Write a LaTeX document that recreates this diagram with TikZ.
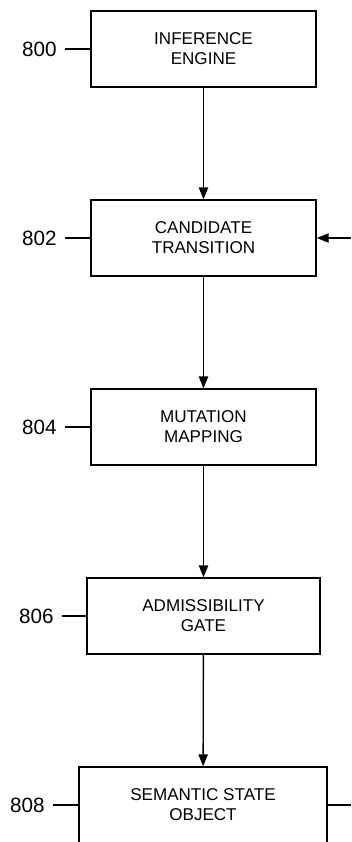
\documentclass[tikz,border=0pt]{standalone}
\usepackage{fontspec}
\setmainfont{Liberation Sans}
\usetikzlibrary{arrows.meta}

\begin{document}
\begin{tikzpicture}[x=0.75pt, y=-0.75pt, >={Triangle[length=9pt,width=7pt]},
        line width=1pt,
        blockbox/.style={draw, align=center, minimum height=57pt, inner sep=0pt,
            font=\fontsize{12.8}{15}\selectfont},
        refnum/.style={left, inner sep=6pt, font=\fontsize{15.5}{18}\selectfont}]
        \useasboundingbox (0,0) rectangle (351,842);

        \node[blockbox, minimum width=168.75pt] (eng) at (203.5,49) {INFERENCE\\ENGINE};
        \node[blockbox, minimum width=168.75pt] (cand) at (203.5,238) {CANDIDATE\\TRANSITION};
        \node[blockbox, minimum width=168.75pt] (mut) at (203.5,427) {MUTATION\\MAPPING};
        \node[blockbox, minimum width=174.75pt] (gate) at (203.5,616) {ADMISSIBILITY\\GATE};
        \node[blockbox, minimum width=186pt] (sso) at (203,805) {SEMANTIC STATE\\OBJECT};

        \coordinate (feedin) at (351,238);
        \coordinate (feedout) at (351,805);

        \draw[->] (eng) -- (cand);
        \draw[->] (cand) -- (mut);
        \draw[->] (mut) -- (gate);
        \draw[->] (gate) -- (sso);

        \draw[->] (feedin) -- (cand);
        \draw (sso) -- (feedout);

        \draw (eng.west) -- ++(-25,0) node[refnum] (r800) {800};
        \draw (cand.west) -- ++(-25,0) node[refnum] (r802) {802};
        \draw (mut.west) -- ++(-25,0) node[refnum] (r804) {804};
        \draw (gate.west) -- ++(-24,0) node[refnum] (r806) {806};
        \draw (sso.west) -- ++(-25,0) node[refnum] (r808) {808};
    \end{tikzpicture}
\end{document}
